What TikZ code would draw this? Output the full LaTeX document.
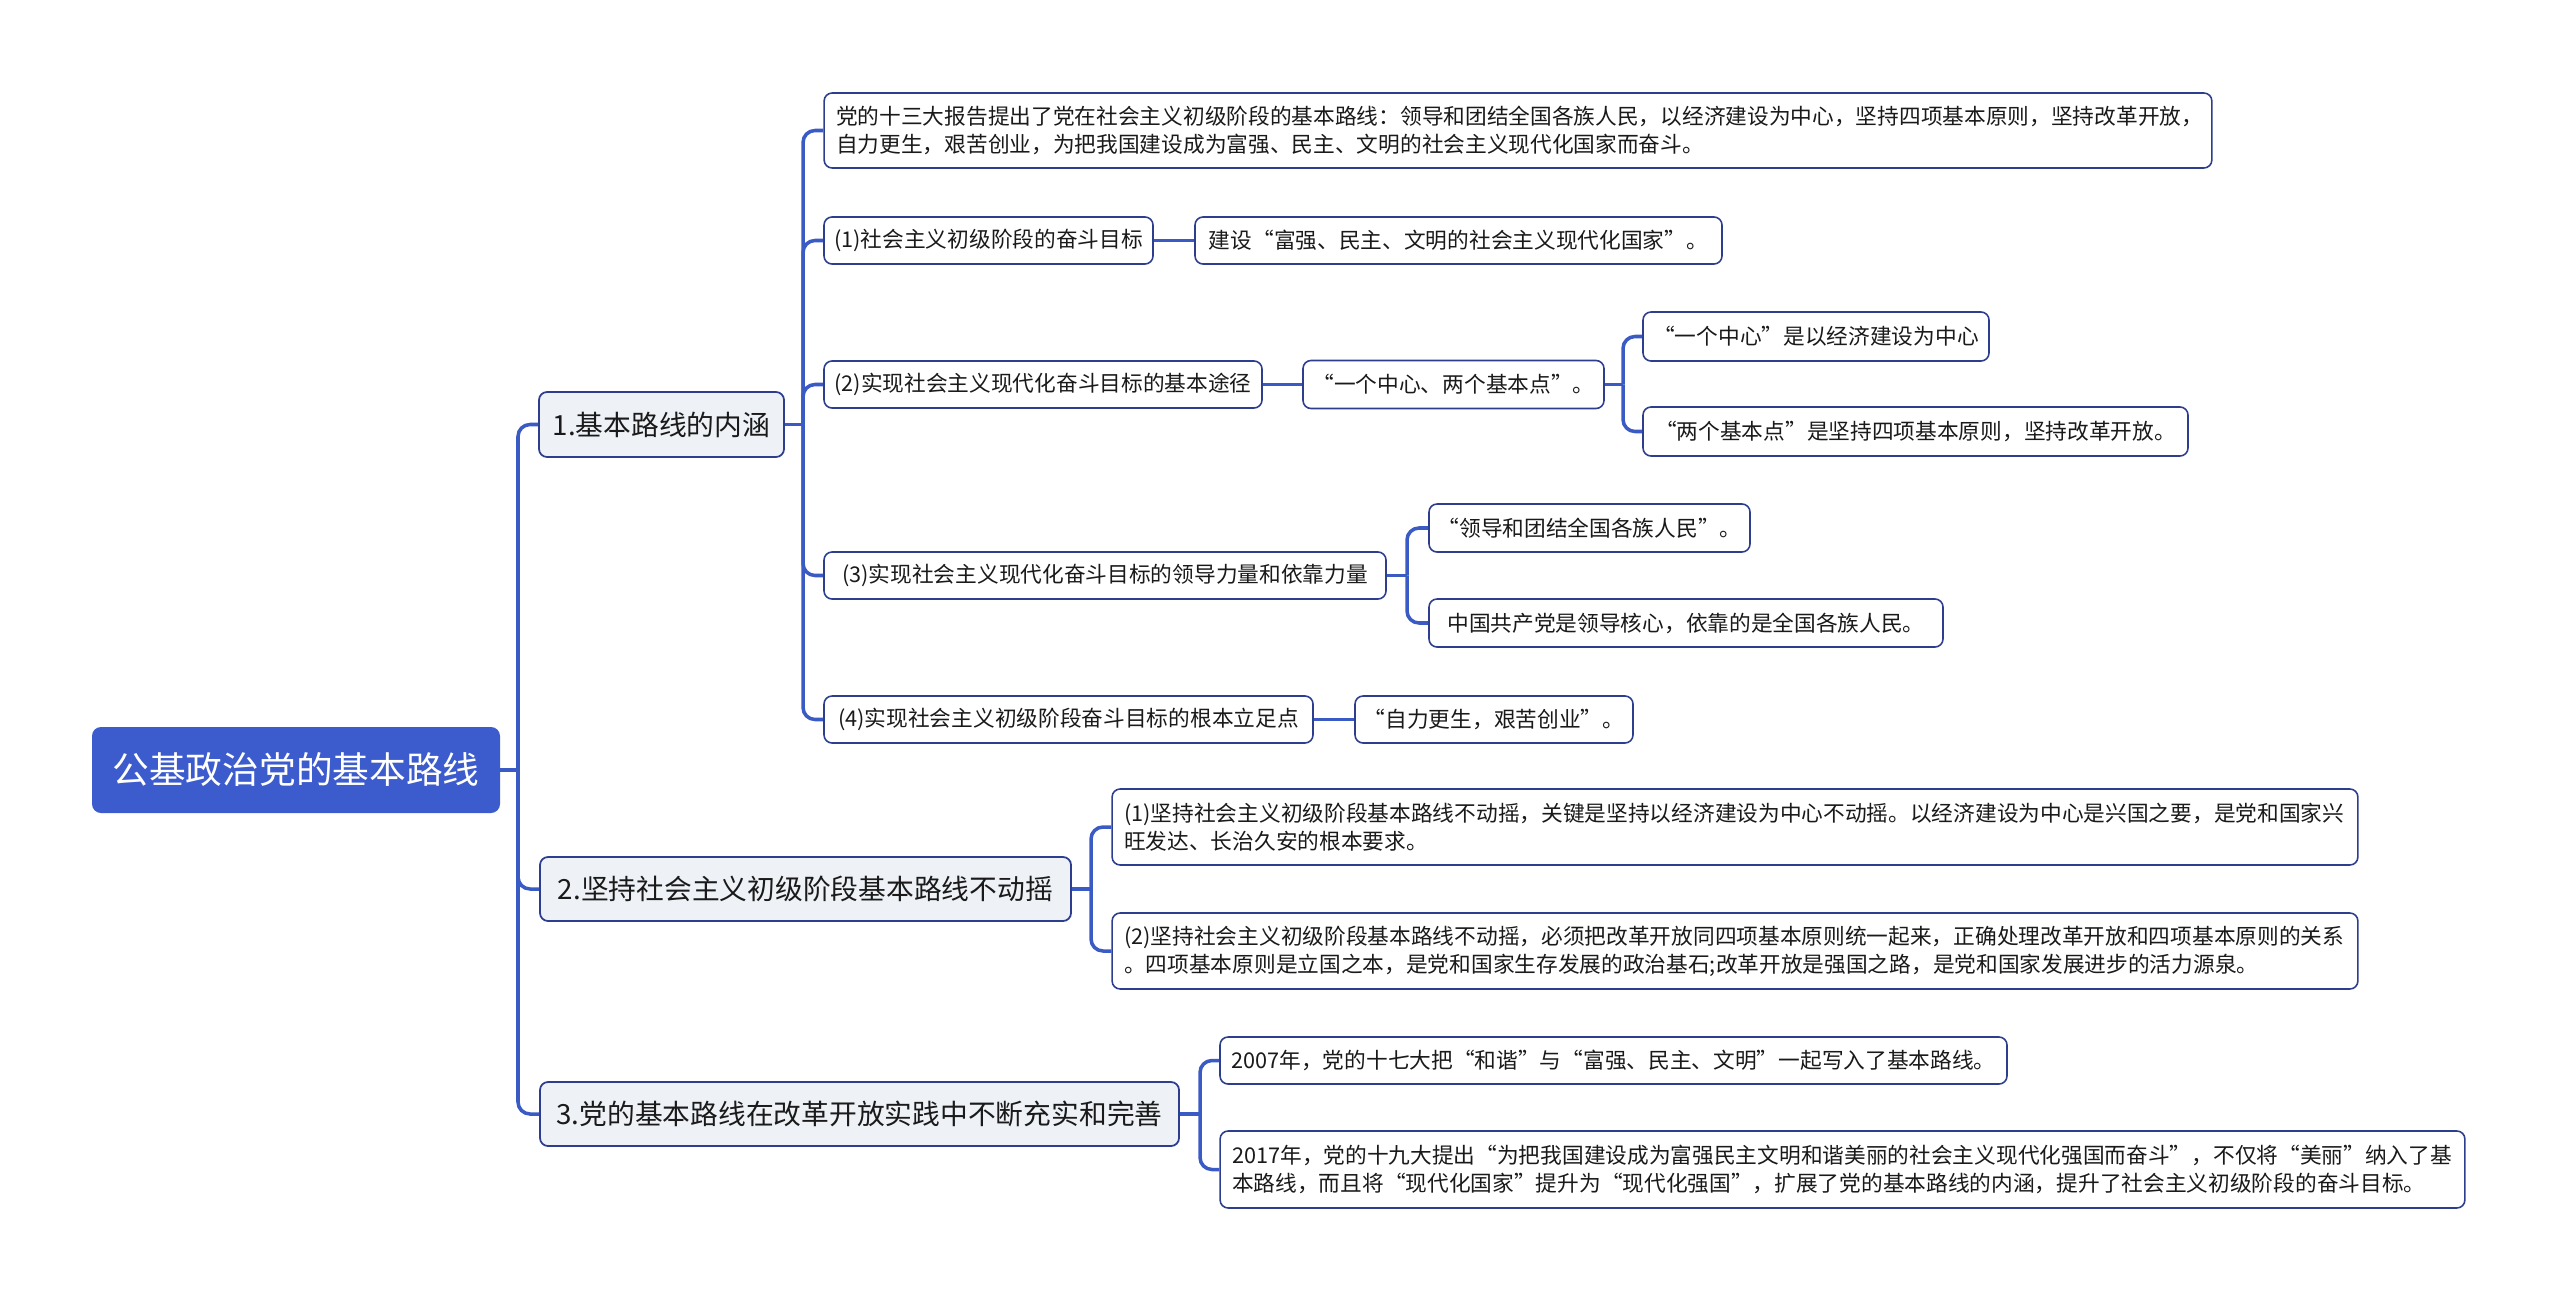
\documentclass[tikz,border=0pt]{standalone}
\usepackage{fontspec}
\setmainfont{Noto Sans CJK SC}
\usetikzlibrary{positioning}
\definecolor{linkblue}{HTML}{3A5AC4}
\definecolor{rootblue}{HTML}{3C5BCD}
\definecolor{edgenavy}{HTML}{2D3E8E}
\definecolor{topicfill}{HTML}{EEF2F7}
\definecolor{inktext}{HTML}{1A1A1A}

\tikzset{
  sz/.style 2 args={minimum width=#1*0.02cm, minimum height=#2*0.02cm},
  rootbox/.style={fill=rootblue, rounded corners=0.18cm, text=white, inner sep=0pt,
    font=\fontsize{20.9}{25}\selectfont},
  topic/.style={draw=edgenavy, fill=topicfill, line width=1pt, rounded corners=0.16cm,
    text=inktext, inner sep=0pt, font=\fontsize{15.8}{19}\selectfont},
  leaf/.style={draw=edgenavy, fill=white, line width=0.9pt, rounded corners=0.16cm,
    text=inktext, inner sep=0pt, font=\fontsize{12.35}{15.8}\selectfont},
  para/.style={leaf, align=left, inner xsep=0.24cm},
  link/.style={draw=linkblue, line width=2pt, rounded corners=0.24cm}
}

\begin{document}
\begin{tikzpicture}[x=0.02cm, y=-0.02cm]
    \useasboundingbox (0,0) rectangle (2560,1301);

    % Root
    \node[rootbox, sz={408}{86}] (root) at (296,770) {公基政治党的基本路线};

    % Main topics
    \node[topic, sz={245}{65}] (b1) at (661.5,424.5) {1.基本路线的内涵};
    \node[topic, sz={531}{64}] (b2) at (805.5,889) {2.坚持社会主义初级阶段基本路线不动摇};
    \node[topic, sz={639}{64}] (b3) at (859.5,1114) {3.党的基本路线在改革开放实践中不断充实和完善};

    % Topic 1
    \node[para, text width=27.28cm, minimum height=75*0.02cm] (c1a) at (1518,130.5)
      {党的十三大报告提出了党在社会主义初级阶段的基本路线：领导和团结全国各族人民，以经济建设为中心，坚持四项基本原则，坚持改革开放，\\
       自力更生，艰苦创业，为把我国建设成为富强、民主、文明的社会主义现代化国家而奋斗。};
    \node[leaf, sz={329}{47}] (c1b) at (988.5,240.5) {(1)社会主义初级阶段的奋斗目标};
    \node[leaf, sz={527}{47}] (c1b1) at (1458.5,240.5) {建设“富强、民主、文明的社会主义现代化国家”。};
    \node[leaf, sz={438}{47}] (c1c) at (1043,384.5) {(2)实现社会主义现代化奋斗目标的基本途径};
    \node[leaf, sz={301}{48}] (c1c1) at (1453.5,384.5) {“一个中心、两个基本点”。};
    \node[leaf, sz={346}{49}] (c1c1a) at (1816,336.5) {“一个中心”是以经济建设为中心};
    \node[leaf, sz={545}{49}] (c1c1b) at (1915.5,431.5) {“两个基本点”是坚持四项基本原则，坚持改革开放。};
    \node[leaf, sz={562}{47}] (c1d) at (1105,575.5) {(3)实现社会主义现代化奋斗目标的领导力量和依靠力量};
    \node[leaf, sz={321}{48}] (c1d1) at (1589.5,528) {“领导和团结全国各族人民”。};
    \node[leaf, sz={514}{48}] (c1d2) at (1686,623) {中国共产党是领导核心，依靠的是全国各族人民。};
    \node[leaf, sz={489}{47}] (c1e) at (1068.5,719.5) {(4)实现社会主义初级阶段奋斗目标的根本立足点};
    \node[leaf, sz={278}{47}] (c1e1) at (1494,719.5) {“自力更生，艰苦创业”。};

    % Topic 2
    \node[para, text width=24.44cm, minimum height=76*0.02cm] (c2a) at (1735,827)
      {(1)坚持社会主义初级阶段基本路线不动摇，关键是坚持以经济建设为中心不动摇。以经济建设为中心是兴国之要，是党和国家兴\\
       旺发达、长治久安的根本要求。};
    \node[para, text width=24.44cm, minimum height=76*0.02cm] (c2b) at (1735,951)
      {(2)坚持社会主义初级阶段基本路线不动摇，必须把改革开放同四项基本原则统一起来，正确处理改革开放和四项基本原则的关系\\
       。四项基本原则是立国之本，是党和国家生存发展的政治基石;改革开放是强国之路，是党和国家发展进步的活力源泉。};

    % Topic 3
    \node[leaf, sz={787}{47}] (c3a) at (1613.5,1060.5) {2007年，党的十七大把“和谐”与“富强、民主、文明”一起写入了基本路线。};
    \node[para, text width=24.42cm, minimum height=77*0.02cm] (c3b) at (1842.5,1169.5)
      {2017年，党的十九大提出“为把我国建设成为富强民主文明和谐美丽的社会主义现代化强国而奋斗”，不仅将“美丽”纳入了基\\
       本路线，而且将“现代化国家”提升为“现代化强国”，扩展了党的基本路线的内涵，提升了社会主义初级阶段的奋斗目标。};

    % Junctions
    \coordinate (j0) at (518,770);
    \coordinate (j1) at (803,424.5);
    \coordinate (j2) at (1623,384.5);
    \coordinate (j3) at (1407,575.5);
    \coordinate (j4) at (1091,889);
    \coordinate (j5) at (1200,1114);

    % Connectors
    \draw[link] (root.east) -- (j0);
    \foreach \c in {b1,b2,b3} \draw[link] (j0) |- (\c.west);
    \draw[link] (b1.east) -- (j1);
    \foreach \c in {c1a,c1b,c1c,c1d,c1e} \draw[link] (j1) |- (\c.west);
    \draw[link] (c1b.east) -- (c1b1.west);
    \draw[link] (c1c.east) -- (c1c1.west);
    \draw[link] (c1c1.east) -- (j2);
    \foreach \c in {c1c1a,c1c1b} \draw[link] (j2) |- (\c.west);
    \draw[link] (c1d.east) -- (j3);
    \foreach \c in {c1d1,c1d2} \draw[link] (j3) |- (\c.west);
    \draw[link] (c1e.east) -- (c1e1.west);
    \draw[link] (b2.east) -- (j4);
    \foreach \c in {c2a,c2b} \draw[link] (j4) |- (\c.west);
    \draw[link] (b3.east) -- (j5);
    \foreach \c in {c3a,c3b} \draw[link] (j5) |- (\c.west);
\end{tikzpicture}
\end{document}
